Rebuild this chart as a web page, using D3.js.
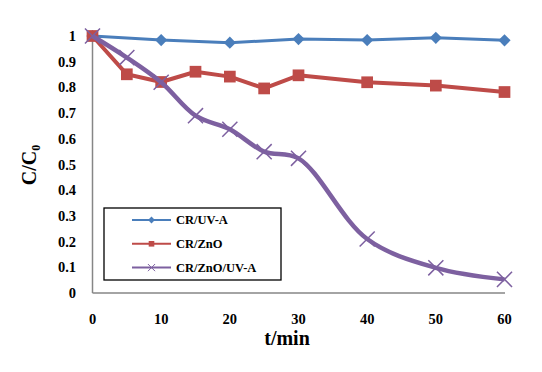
<!DOCTYPE html>
<html>
<head>
<meta charset="utf-8">
<script src="https://cdn.jsdelivr.net/npm/d3@7"></script>
<style>
body { margin: 0; background: #fff; }
text { font-family: "Liberation Serif", "Times New Roman", serif; font-weight: bold; }
</style>
</head>
<body>
<svg width="542" height="372"></svg>
<script>
var svg = d3.select("svg"),
    width = +svg.attr("width"),
    height = +svg.attr("height");

// data
var tUV = [0, 10, 20, 30, 40, 50, 60];
var cUV = [1, 0.984, 0.974, 0.988, 0.984, 0.993, 0.983];

var tZnO = [0, 5, 10, 15, 20, 25, 30, 40, 50, 60];
var cZnO = [1, 0.851, 0.821, 0.861, 0.842, 0.796, 0.847, 0.820, 0.807, 0.782];

var tZnOUV = [0, 5, 10, 15, 20, 25, 30, 40, 50, 60];
var cZnOUV = [1, 0.916, 0.82, 0.69, 0.637, 0.55, 0.524, 0.21, 0.098, 0.053];

var xTicks = [0, 10, 20, 30, 40, 50, 60];
var yTicks = [0, 0.1, 0.2, 0.3, 0.4, 0.5, 0.6, 0.7, 0.8, 0.9, 1];

var series = [
  {name: "CR/UV-A", t: tUV, c: cUV, color: "#4a7ebb", width: 3, symbol: "diamond", curve: d3.curveLinear},
  {name: "CR/ZnO", t: tZnO, c: cZnO, color: "#be4b48", width: 4, symbol: "square", curve: d3.curveLinear},
  {name: "CR/ZnO/UV-A", t: tZnOUV, c: cZnOUV, color: "#7d60a0", width: 4.5, symbol: "cross", curve: d3.curveCatmullRom.alpha(0.5)}
];

var x = d3.scaleLinear().domain([0, 60]).range([92.5, 504.5]);
var y = d3.scaleLinear().domain([0, 1]).range([293, 36]);

// axes
svg.append("line")
    .attr("x1", x(0)).attr("x2", 505)
    .attr("y1", y(0)).attr("y2", y(0))
    .attr("stroke", "#868686").attr("stroke-width", 1.5);
svg.append("line")
    .attr("x1", x(0)).attr("x2", x(0))
    .attr("y1", y(0)).attr("y2", y(1))
    .attr("stroke", "#868686").attr("stroke-width", 1.5);

svg.append("g").selectAll("text")
  .data(yTicks)
  .enter().append("text")
    .attr("x", 76)
    .attr("y", function(d) { return y(d); })
    .attr("dy", "0.35em")
    .attr("text-anchor", "end")
    .attr("font-size", 14.5)
    .text(function(d) { return d3.format("")(d); });

svg.append("g").selectAll("text")
  .data(xTicks)
  .enter().append("text")
    .attr("x", function(d) { return x(d); })
    .attr("y", 324)
    .attr("text-anchor", "middle")
    .attr("font-size", 14.5)
    .text(function(d) { return d; });

svg.append("text")
    .attr("x", 287)
    .attr("y", 345)
    .attr("text-anchor", "middle")
    .attr("font-size", 20)
    .text("t/min");

var yl = svg.append("text")
    .attr("transform", "translate(36,165) rotate(-90)")
    .attr("text-anchor", "middle")
    .attr("font-size", 20);
yl.append("tspan").text("C/C");
yl.append("tspan").attr("font-size", 12).attr("dy", 4).text("0");

// series
function markerPath(sym, size) {
  if (sym === "diamond") return d3.symbol().type(d3.symbolDiamond2).size(size)();
  if (sym === "square") return d3.symbol().type(d3.symbolSquare2).size(size)();
  return d3.symbol().type(d3.symbolTimes).size(size)();
}

series.forEach(function(s) {
  var pts = s.t.map(function(t, i) { return [t, s.c[i]]; });
  var line = d3.line()
      .x(function(d) { return x(d[0]); })
      .y(function(d) { return y(d[1]); })
      .curve(s.curve);

  svg.append("path")
      .datum(pts)
      .attr("d", line)
      .attr("fill", "none")
      .attr("stroke", s.color)
      .attr("stroke-width", s.width)
      .attr("stroke-linejoin", "round");

  var size = s.symbol === "diamond" ? 95 : (s.symbol === "square" ? 175 : 150);
  svg.append("g").selectAll("path")
    .data(pts)
    .enter().append("path")
      .attr("transform", function(d) { return "translate(" + x(d[0]) + "," + y(d[1]) + ")"; })
      .attr("d", markerPath(s.symbol, size))
      .attr("fill", s.symbol === "cross" ? "none" : s.color)
      .attr("stroke", s.color)
      .attr("stroke-width", s.symbol === "cross" ? 1.5 : 0);
});

// legend
var legend = svg.append("g").attr("transform", "translate(104,208)");
legend.append("rect")
    .attr("width", 177).attr("height", 72)
    .attr("fill", "#fff")
    .attr("stroke", "#000").attr("stroke-width", 1.3);

var rows = legend.selectAll("g.row")
  .data(series)
  .enter().append("g")
    .attr("class", "row")
    .attr("transform", function(d, i) { return "translate(0," + (12 + i * 23.8) + ")"; });

rows.append("line")
    .attr("x1", 28).attr("x2", 67)
    .attr("stroke", function(d) { return d.color; })
    .attr("stroke-width", 2);

rows.append("path")
    .attr("transform", "translate(47.5,0)")
    .attr("d", function(d) {
      var sz = d.symbol === "diamond" ? 30 : (d.symbol === "square" ? 40 : 35);
      return markerPath(d.symbol, sz);
    })
    .attr("fill", function(d) { return d.symbol === "cross" ? "none" : d.color; })
    .attr("stroke", function(d) { return d.color; })
    .attr("stroke-width", function(d) { return d.symbol === "cross" ? 1 : 0; });

rows.append("text")
    .attr("x", 72)
    .attr("dy", "0.35em")
    .attr("font-size", 12.5)
    .text(function(d) { return d.name; });
</script>
</body>
</html>
